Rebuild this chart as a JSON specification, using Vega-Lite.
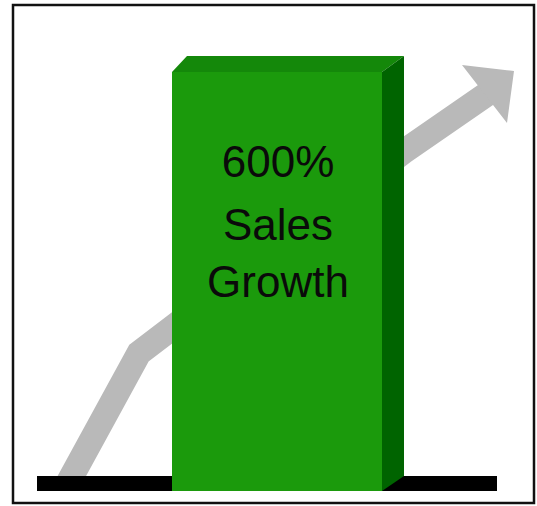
{
  "$schema": "https://vega.github.io/schema/vega-lite/v6.json",
  "width": 537,
  "height": 506,
  "padding": 0,
  "autosize": {"type": "none"},
  "background": "white",
  "config": {"view": {"stroke": null}},
  "datasets": {
    "frame": [{"x": 13, "x2": 534, "y": 5, "y2": 503}],
    "arrow": [
      {"x": 68, "y": 483},
      {"x": 139, "y": 353},
      {"x": 403, "y": 152},
      {"x": 487, "y": 94}
    ],
    "head": [
      {"x": 462, "top": 65, "bottom": 65},
      {"x": 507, "top": 70.2, "bottom": 123},
      {"x": 514, "top": 71, "bottom": 71}
    ],
    "base": [{"x": 37, "x2": 497, "y": 476, "y2": 491}],
    "front": [{"x": 172, "x2": 382, "y": 72, "y2": 491}],
    "topface": [
      {"y": 56, "x": 187, "x2": 404},
      {"y": 72, "x": 172, "x2": 382}
    ],
    "side": [
      {"x": 382, "y": 72, "y2": 491},
      {"x": 404, "y": 56, "y2": 476}
    ],
    "labels": [
      {"label": "600%", "x": 278, "y": 177},
      {"label": "Sales", "x": 278, "y": 240},
      {"label": "Growth", "x": 278, "y": 297}
    ]
  },
  "layer": [
    {
      "data": {"name": "frame"},
      "mark": {"type": "rect", "fill": "transparent", "stroke": "#111111", "strokeWidth": 2.5},
      "encoding": {
        "x": {"field": "x", "type": "quantitative", "scale": {"domain": [0, 537], "nice": false, "zero": false}, "axis": null},
        "x2": {"field": "x2"},
        "y": {"field": "y", "type": "quantitative", "scale": {"domain": [506, 0], "nice": false, "zero": false}, "axis": null},
        "y2": {"field": "y2"}
      }
    },
    {
      "data": {"name": "arrow"},
      "mark": {"type": "line", "color": "#b9b9b9", "strokeWidth": 25, "strokeCap": "butt", "strokeJoin": "miter"},
      "encoding": {
        "x": {"field": "x", "type": "quantitative"},
        "y": {"field": "y", "type": "quantitative"}
      }
    },
    {
      "data": {"name": "head"},
      "mark": {"type": "area", "color": "#b9b9b9", "orient": "vertical", "opacity": 1},
      "encoding": {
        "x": {"field": "x", "type": "quantitative"},
        "y": {"field": "top", "type": "quantitative"},
        "y2": {"field": "bottom"}
      }
    },
    {
      "data": {"name": "base"},
      "mark": {"type": "rect", "color": "#000000"},
      "encoding": {
        "x": {"field": "x", "type": "quantitative"},
        "x2": {"field": "x2"},
        "y": {"field": "y", "type": "quantitative"},
        "y2": {"field": "y2"}
      }
    },
    {
      "data": {"name": "front"},
      "mark": {"type": "rect", "color": "#1b9a0c"},
      "encoding": {
        "x": {"field": "x", "type": "quantitative"},
        "x2": {"field": "x2"},
        "y": {"field": "y", "type": "quantitative"},
        "y2": {"field": "y2"}
      }
    },
    {
      "data": {"name": "topface"},
      "mark": {"type": "area", "color": "#14880a", "orient": "horizontal", "opacity": 1},
      "encoding": {
        "y": {"field": "y", "type": "quantitative"},
        "x": {"field": "x", "type": "quantitative"},
        "x2": {"field": "x2"}
      }
    },
    {
      "data": {"name": "side"},
      "mark": {"type": "area", "color": "#006400", "orient": "vertical", "opacity": 1},
      "encoding": {
        "x": {"field": "x", "type": "quantitative"},
        "y": {"field": "y", "type": "quantitative"},
        "y2": {"field": "y2"}
      }
    },
    {
      "data": {"name": "labels"},
      "mark": {"type": "text", "font": "Liberation Sans", "fontSize": 44, "color": "#0a0a0a", "align": "center", "baseline": "alphabetic"},
      "encoding": {
        "x": {"field": "x", "type": "quantitative"},
        "y": {"field": "y", "type": "quantitative"},
        "text": {"field": "label"}
      }
    }
  ]
}
